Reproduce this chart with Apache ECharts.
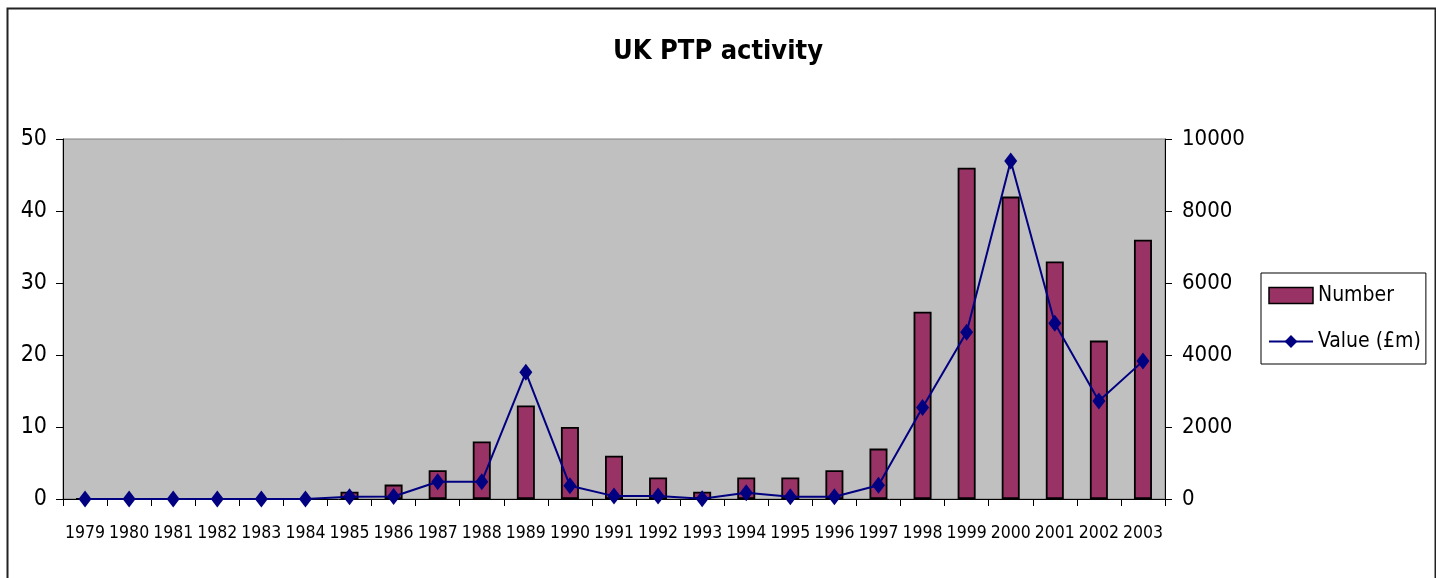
<!DOCTYPE html>
<html>
<head>
<meta charset="utf-8">
<script src="https://cdn.jsdelivr.net/npm/echarts@6/dist/echarts.min.js"></script>
<style>
html,body{margin:0;padding:0;background:#fff;}
#chart{width:1436px;height:578px;}
</style>
</head>
<body>
<div id="chart"></div>
<script>
const years = ['1979','1980','1981','1982','1983','1984','1985','1986','1987','1988','1989','1990','1991','1992','1993','1994','1995','1996','1997','1998','1999','2000','2001','2002','2003'];
const numberDeals = [0,0,0,0,0,0,1,2,4,8,13,10,6,3,1,3,3,4,7,26,46,42,33,22,36];
const valueGBPm = [0,0,0,0,0,0,65,70,480,480,3520,370,80,80,10,175,65,65,380,2540,4630,9390,4880,2720,3830];
const seriesNames = ['Number','Value (£m)'];
const titleText = 'UK PTP activity';

const FONT = "'DejaVu Sans Condensed','Liberation Sans Narrow',sans-serif";
const chart = echarts.init(document.getElementById('chart'));
chart.setOption({
  backgroundColor:'#ffffff',
  animation:false,
  title:{
    text:titleText, left:'center', top:33,
    textStyle:{fontFamily:FONT, fontWeight:'bold', fontSize:27, color:'#000'}
  },
  graphic:[{
    type:'rect', left:5, top:6, silent:true,
    shape:{width:1428, height:640},
    style:{fill:null, stroke:'#222', lineWidth:2}
  }],
  legend:{
    orient:'vertical', left:1261, top:273,
    padding:[12,5,12,7],
    borderColor:'#000', borderWidth:1,
    backgroundColor:'#fff',
    itemWidth:44, itemHeight:16, itemGap:25,
    textStyle:{fontFamily:FONT, fontSize:21, color:'#000'},
    data:[
      {name:seriesNames[0], icon:'rect', itemStyle:{color:'#993366', borderColor:'#000', borderWidth:1.5}},
      {name:seriesNames[1]}
    ]
  },
  grid:{
    left:63, right:271, top:139, bottom:79,
    show:true, backgroundColor:'#c0c0c0', borderColor:'#808080', borderWidth:1
  },
  xAxis:{
    type:'category', data:years,
    axisLine:{lineStyle:{color:'#000', width:1}},
    axisTick:{show:true, length:7, lineStyle:{color:'#000'}},
    axisLabel:{fontFamily:FONT, fontSize:17.5, color:'#000', margin:25, interval:0}
  },
  yAxis:[{
    type:'value', min:0, max:50, interval:10,
    axisLine:{show:true, lineStyle:{color:'#000'}},
    axisTick:{show:true, length:7, lineStyle:{color:'#000'}},
    splitLine:{show:false},
    axisLabel:{fontFamily:FONT, fontSize:23, color:'#000', margin:16}
  },{
    type:'value', min:0, max:10000, interval:2000, position:'right',
    axisLine:{show:true, lineStyle:{color:'#000'}},
    axisTick:{show:true, length:7, lineStyle:{color:'#000'}},
    splitLine:{show:false},
    axisLabel:{fontFamily:FONT, fontSize:22, color:'#000', margin:17, formatter:(v)=>String(v)}
  }],
  series:[{
    name:seriesNames[0], type:'bar', data:numberDeals, yAxisIndex:0,
    barWidth:18,
    itemStyle:{color:'#993366', borderColor:'#000', borderWidth:1.8}
  },{
    name:seriesNames[1], type:'line', data:valueGBPm, yAxisIndex:1,
    symbol:'diamond', symbolSize:[13,17],
    lineStyle:{color:'#000080', width:2},
    itemStyle:{color:'#000080'}
  }]
});
</script>
</body>
</html>
